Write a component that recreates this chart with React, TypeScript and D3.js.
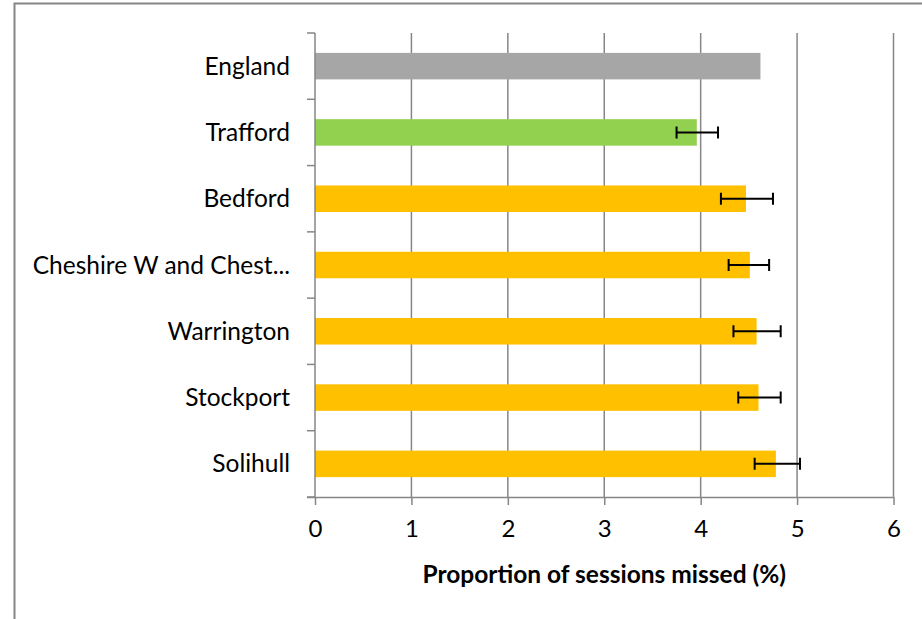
import { useEffect, useRef } from 'react';
import * as d3 from 'd3';

const areas = ['England', 'Trafford', 'Bedford', 'Cheshire W and Chest...', 'Warrington', 'Stockport', 'Solihull'];
const values = [4.62, 3.96, 4.47, 4.51, 4.58, 4.60, 4.78];
const lowerCI = [null, 3.75, 4.21, 4.29, 4.34, 4.39, 4.56];
const upperCI = [null, 4.18, 4.75, 4.71, 4.83, 4.83, 5.03];
const barColours = ['#A6A6A6', '#92D050', '#FFC000', '#FFC000', '#FFC000', '#FFC000', '#FFC000'];
const xTicks = [0, 1, 2, 3, 4, 5, 6];

const FONT = 'Lato, "Open Sans", sans-serif';

export default function App() {
  const svgRef = useRef<SVGSVGElement | null>(null);

  useEffect(() => {
    if (!svgRef.current) return;
    const width = 922;
    const height = 619;
    const plot = { left: 315, right: 893.5, top: 33, bottom: 497 };

    const svg = d3.select(svgRef.current);
    svg.selectAll('*').remove();

    // outer frame (only top and left edges are visible)
    svg.append('path')
      .attr('d', `M14.5,${height} V3.5 H${width}`)
      .attr('fill', 'none')
      .attr('stroke', '#868686')
      .attr('stroke-width', 2);

    const x = d3.scaleLinear().domain([0, 6]).range([plot.left, plot.right]);
    const y = d3.scaleBand<string>().domain(areas).range([plot.top, plot.bottom]).paddingInner(0.6).paddingOuter(0.3);
    const band = d3.scaleBand<string>().domain(areas).range([plot.top, plot.bottom]);

    // gridlines
    svg.append('g')
      .selectAll('line')
      .data(xTicks.slice(1))
      .join('line')
      .attr('x1', d => x(d)).attr('x2', d => x(d))
      .attr('y1', plot.top).attr('y2', plot.bottom)
      .attr('stroke', '#868686')
      .attr('stroke-width', 1.5);

    // bars
    svg.append('g')
      .selectAll('rect')
      .data(areas)
      .join('rect')
      .attr('x', x(0))
      .attr('y', d => y(d) || 0)
      .attr('width', (d, i) => x(values[i]) - x(0))
      .attr('height', y.bandwidth())
      .attr('fill', (d, i) => barColours[i]);

    // error bars
    const eb = svg.append('g').attr('stroke', '#000').attr('stroke-width', 2).attr('fill', 'none');
    areas.forEach((a, i) => {
      const lo = lowerCI[i];
      const hi = upperCI[i];
      if (lo == null || hi == null) return;
      const cy = (y(a) || 0) + y.bandwidth() / 2;
      eb.append('path')
        .attr('d', `M${x(lo)},${cy} H${x(hi)} M${x(lo)},${cy - 6} V${cy + 6} M${x(hi)},${cy - 6} V${cy + 6}`);
    });

    // category axis
    const yAxis = svg.append('g').attr('stroke', '#868686').attr('stroke-width', 1.5);
    yAxis.append('line')
      .attr('x1', plot.left).attr('x2', plot.left)
      .attr('y1', plot.top).attr('y2', plot.bottom);
    yAxis.selectAll('line.tick')
      .data(d3.range(areas.length + 1))
      .join('line')
      .attr('class', 'tick')
      .attr('x1', plot.left - 8).attr('x2', plot.left)
      .attr('y1', d => plot.top + d * band.bandwidth())
      .attr('y2', d => plot.top + d * band.bandwidth());

    svg.append('g')
      .selectAll('text')
      .data(areas)
      .join('text')
      .attr('x', 290)
      .attr('y', d => (band(d) || 0) + band.bandwidth() / 2)
      .attr('dy', '0.35em')
      .attr('text-anchor', 'end')
      .attr('font-family', FONT)
      .attr('font-size', 24.5)
      .attr('fill', '#000')
      .text(d => d);

    // value axis
    const xAxis = svg.append('g')
      .attr('transform', `translate(0,${plot.bottom})`)
      .call(d3.axisBottom(x).tickValues(xTicks).tickSize(8).tickPadding(15).tickFormat(d3.format('d')));
    xAxis.select('.domain')
      .attr('d', `M${plot.left - 8},0.5H${plot.right}`)
      .attr('stroke', '#868686')
      .attr('stroke-width', 1.5);
    xAxis.selectAll('.tick line').attr('stroke', '#868686').attr('stroke-width', 1.5);
    xAxis.selectAll('.tick text')
      .attr('font-family', FONT)
      .attr('font-size', 24)
      .attr('fill', '#000');

    svg.append('text')
      .attr('x', (plot.left + plot.right) / 2)
      .attr('y', 583)
      .attr('text-anchor', 'middle')
      .attr('font-family', FONT)
      .attr('font-weight', 'bold')
      .attr('font-size', 24.5)
      .attr('fill', '#000')
      .text('Proportion of sessions missed (%)');
  }, []);

  return (
    <svg
      ref={svgRef}
      width={922}
      height={619}
      style={{ position: 'absolute', left: 0, top: 0, background: '#fff' }}
    ></svg>
  );
}
